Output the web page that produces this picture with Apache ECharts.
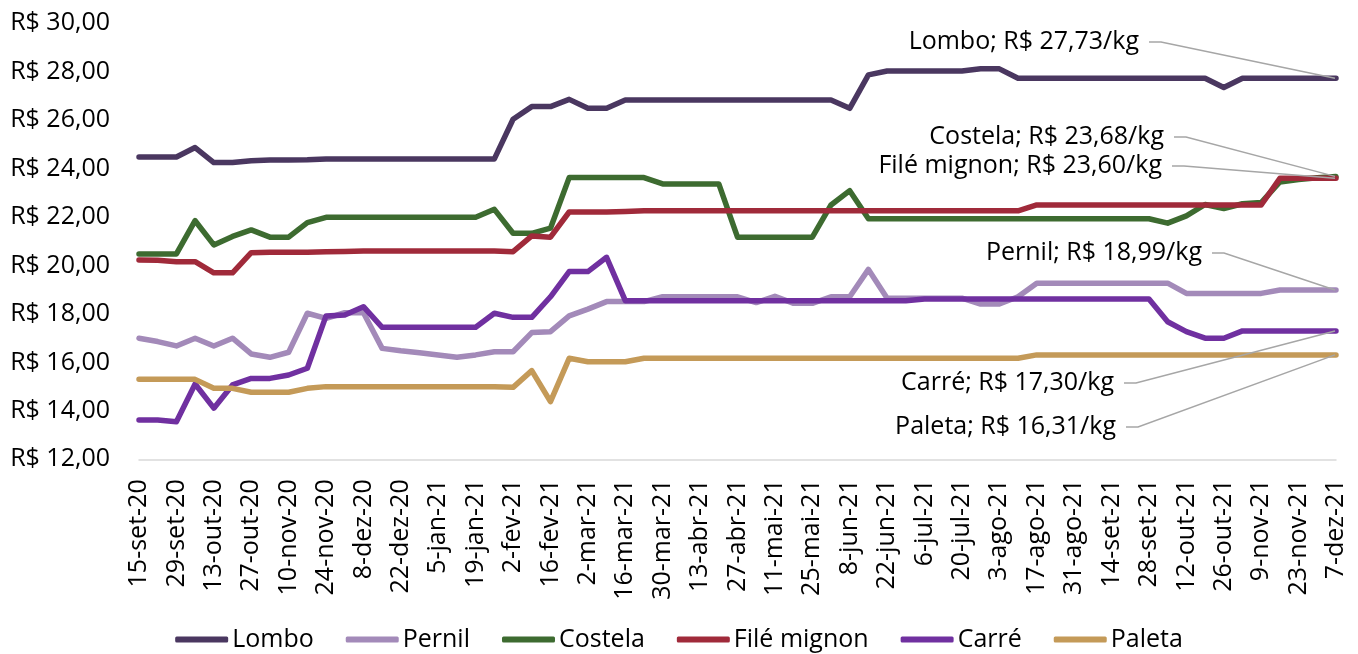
<!DOCTYPE html>
<html>
<head>
<meta charset="utf-8">
<script src="https://cdn.jsdelivr.net/npm/echarts@6/dist/echarts.min.js"></script>
<style>
html,body{margin:0;padding:0;background:#fff;}
#chart{width:1358px;height:654px;}
</style>
</head>
<body>
<div id="chart"></div>
<script>
var categories = ['15-set-20','22-set-20','29-set-20','6-out-20','13-out-20','20-out-20','27-out-20','3-nov-20','10-nov-20','17-nov-20','24-nov-20','1-dez-20','8-dez-20','15-dez-20','22-dez-20','29-dez-20','5-jan-21','12-jan-21','19-jan-21','26-jan-21','2-fev-21','9-fev-21','16-fev-21','23-fev-21','2-mar-21','9-mar-21','16-mar-21','23-mar-21','30-mar-21','6-abr-21','13-abr-21','20-abr-21','27-abr-21','4-mai-21','11-mai-21','18-mai-21','25-mai-21','1-jun-21','8-jun-21','15-jun-21','22-jun-21','29-jun-21','6-jul-21','13-jul-21','20-jul-21','27-jul-21','3-ago-21','10-ago-21','17-ago-21','24-ago-21','31-ago-21','7-set-21','14-set-21','21-set-21','28-set-21','5-out-21','12-out-21','19-out-21','26-out-21','2-nov-21','9-nov-21','16-nov-21','23-nov-21','30-nov-21','7-dez-21'];

var lombo = [24.48,24.48,24.48,24.87,24.25,24.25,24.33,24.36,24.36,24.37,24.40,24.40,24.40,24.40,24.40,24.40,24.40,24.40,24.40,24.40,
  26.04,26.56,26.56,26.86,26.49,26.49,
  26.83,26.83,26.83,26.83,26.83,26.83,26.83,26.83,26.83,26.83,26.83,26.83,
  26.49,27.87,28.03,28.03,28.03,28.03,28.03,28.12,28.12,
  27.73,27.73,27.73,27.73,27.73,27.73,27.73,27.73,27.73,27.73,27.73,
  27.35,27.73,27.73,27.73,27.73,27.73,27.73];

var pernil = [17.00,16.86,16.68,17.00,16.68,17.00,16.35,16.21,16.42,18.03,17.82,18.05,18.05,16.58,16.48,16.40,16.31,16.21,16.31,16.44,
  16.44,17.23,17.27,17.92,18.20,18.51,18.51,18.51,18.71,18.71,18.71,18.71,18.71,18.47,18.73,18.44,18.44,18.71,18.71,19.84,
  18.65,18.65,18.65,18.65,18.65,18.41,18.41,18.71,19.27,
  19.27,19.27,19.27,19.27,19.27,19.27,19.27,
  18.85,18.85,18.85,18.85,18.85,
  18.99,18.99,18.99,18.99];

var costela = [20.48,20.48,20.48,21.85,20.85,21.20,21.47,21.17,21.17,21.77,21.99,
  21.99,21.99,21.99,21.99,21.99,21.99,21.99,21.99,
  22.32,21.33,21.33,21.54,23.63,23.63,23.63,23.63,23.63,23.37,23.37,23.37,23.37,21.17,21.17,21.17,21.17,21.17,22.50,23.09,21.93,
  21.93,21.93,21.93,21.93,21.93,21.93,21.93,21.93,21.93,21.93,21.93,21.93,21.93,21.93,21.93,
  21.75,22.05,22.52,22.35,22.55,22.60,23.45,23.55,23.62,23.68];

var fileMignon = [20.23,20.22,20.16,20.16,19.70,19.70,20.53,20.55,20.55,20.55,20.57,20.58,
  20.60,20.60,20.60,20.60,20.60,20.60,20.60,20.60,
  20.57,21.22,21.17,22.21,22.21,22.21,22.23,22.26,
  22.26,22.26,22.26,22.26,22.26,22.26,22.26,22.26,22.26,22.26,22.26,22.26,22.26,22.26,22.26,22.26,22.26,22.26,22.26,
  22.26,22.50,
  22.50,22.50,22.50,22.50,22.50,22.50,22.50,22.50,22.50,22.50,22.50,22.50,
  23.60,23.60,23.60,23.60];

var carre = [13.62,13.62,13.55,15.11,14.11,15.07,15.34,15.34,15.48,15.76,17.92,17.96,18.30,17.45,
  17.45,17.45,17.45,17.45,17.45,
  18.03,17.86,17.86,18.71,19.75,19.75,20.34,18.55,
  18.55,18.55,18.55,18.55,18.55,18.55,18.55,18.55,18.55,18.55,18.55,18.55,18.55,18.55,18.55,
  18.62,18.62,18.62,18.62,18.62,18.62,18.62,18.62,18.62,18.62,18.62,18.62,18.62,
  17.68,17.27,17.00,17.00,17.30,
  17.30,17.30,17.30,17.30,17.30];

var paleta = [15.30,15.30,15.30,15.30,14.93,14.93,14.77,14.77,14.77,14.93,15.00,
  15.00,15.00,15.00,15.00,15.00,15.00,15.00,15.00,15.00,
  14.97,15.66,14.38,16.17,16.03,16.03,16.03,
  16.17,16.17,16.17,16.17,16.17,16.17,16.17,16.17,16.17,16.17,16.17,16.17,16.17,16.17,16.17,16.17,16.17,16.17,16.17,16.17,16.17,
  16.31,16.31,16.31,16.31,16.31,16.31,16.31,16.31,16.31,16.31,16.31,16.31,16.31,16.31,16.31,16.31,16.31];

var seriesNames = ['Lombo','Pernil','Costela','Filé mignon','Carré','Paleta'];
var seriesData = [lombo, pernil, costela, fileMignon, carre, paleta];
var seriesColors = ['#4A3760','#A38AB9','#3D6B30','#A02A3A','#7030A0','#C49A58'];

var yTicks = {min: 12, max: 30, interval: 2};

// end-label layout: [text right edge, text centre y]
var endLabelPos = {
  'Lombo': [1139, 42],
  'Pernil': [1202, 253],
  'Costela': [1164, 137],
  'Filé mignon': [1162, 166],
  'Carré': [1114, 383],
  'Paleta': [1116, 427]
};

var FONT = '"Open Sans", "Noto Sans", sans-serif';
var FS = 25;

function fmtBRL(v) { return 'R$ ' + v.toFixed(2).replace('.', ','); }

var chart = echarts.init(document.getElementById('chart'), null, {renderer: 'canvas'});

var series = seriesNames.map(function (name, i) {
  return {
    name: name,
    type: 'line',
    data: seriesData[i],
    symbol: 'none',
    showSymbol: false,
    smooth: false,
    color: seriesColors[i],
    lineStyle: {color: seriesColors[i], width: 5.5, cap: 'round', join: 'round'},
    emphasis: {disabled: true},
    z: 2 + i
  };
});

chart.setOption({
  animation: false,
  backgroundColor: '#ffffff',
  grid: {left: 139, right: 22, top: 23.3, bottom: 194.7, containLabel: false, outerBoundsMode: 'none'},
  xAxis: {
    type: 'category',
    data: categories,
    boundaryGap: false,
    axisLine: {show: true, lineStyle: {color: '#D9D9D9', width: 1.5}},
    axisTick: {show: false},
    axisLabel: {interval: 1, rotate: 90, margin: 20, color: '#000', fontSize: FS, fontFamily: FONT},
    splitLine: {show: false}
  },
  yAxis: {
    type: 'value',
    min: yTicks.min, max: yTicks.max, interval: yTicks.interval,
    axisLine: {show: false},
    axisTick: {show: false},
    splitLine: {show: false},
    axisLabel: {margin: 29, color: '#000', fontSize: FS, fontFamily: FONT, formatter: function (v) { return fmtBRL(v); }}
  },
  legend: {
    data: seriesNames,
    top: 622,
    left: 'center',
    icon: 'roundRect',
    itemWidth: 53,
    itemHeight: 6,
    itemGap: 32,
    textStyle: {color: '#000', fontSize: FS, fontFamily: FONT, padding: [0, 0, 0, -1]}
  },
  tooltip: {show: false},
  series: series
});

// end data labels with leader lines
var graphics = [];
seriesNames.forEach(function (name, i) {
  var data = seriesData[i];
  var last = data.length - 1;
  var p = chart.convertToPixel({seriesIndex: i}, [last, data[last]]);
  var pos = endLabelPos[name];
  graphics.push({
    type: 'text',
    z: 20,
    style: {
      text: name + '; ' + fmtBRL(data[last]) + '/kg',
      x: pos[0], y: pos[1],
      textAlign: 'right', align: 'right',
      textVerticalAlign: 'middle', verticalAlign: 'middle',
      font: FS + 'px ' + FONT,
      fill: '#000'
    }
  });
  graphics.push({
    type: 'polyline',
    z: 19,
    shape: {points: [[pos[0] + 10, pos[1]], [pos[0] + 22, pos[1]], [p[0] - 1, p[1]]]},
    style: {stroke: '#A6A6A6', lineWidth: 1.5, fill: null}
  });
});
chart.setOption({graphic: graphics});
</script>
</body>
</html>
